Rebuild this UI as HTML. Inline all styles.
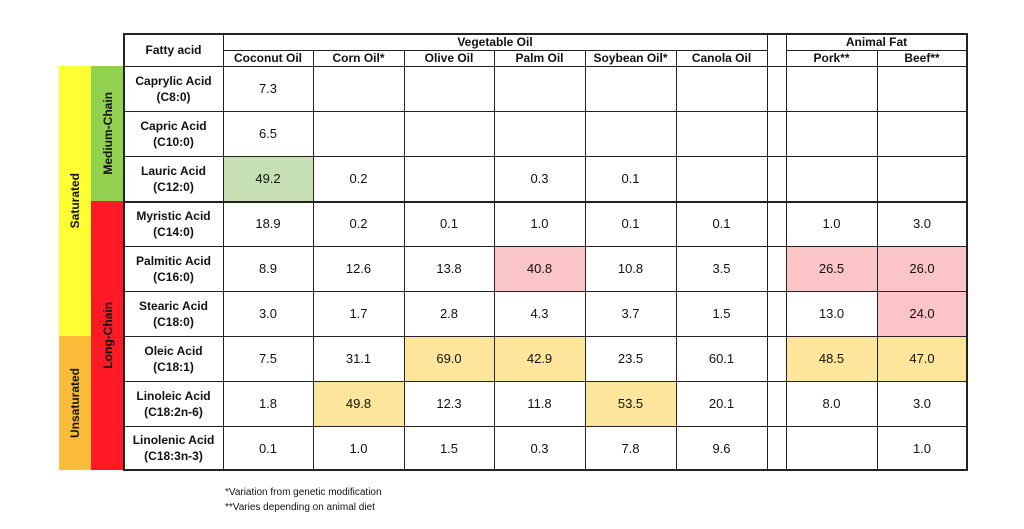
<!DOCTYPE html>
<html><head><meta charset="utf-8"><style>
body{margin:0;background:#fff;width:1024px;height:529px;position:relative;overflow:hidden;font-family:"Liberation Sans",sans-serif;color:#111}
.c{position:absolute;box-sizing:border-box;display:flex;align-items:center;justify-content:center;text-align:center}
.ln{position:absolute;background:#222}
.v{writing-mode:vertical-rl;transform:rotate(180deg);font-weight:bold;font-size:12px}
</style></head><body>
<div id="t"></div>
<div class="c" style="left:225px;top:485px;height:14px;font-size:10px;justify-content:flex-start">*Variation from genetic modification</div>
<div class="c" style="left:225px;top:500px;height:14px;font-size:10px;justify-content:flex-start">**Varies depending on animal diet</div>
<script>
const columns=["Coconut Oil","Corn Oil*","Olive Oil","Palm Oil","Soybean Oil*","Canola Oil","","Pork**","Beef**"];
const acids=[["Caprylic Acid","(C8:0)"],["Capric Acid","(C10:0)"],["Lauric Acid","(C12:0)"],["Myristic Acid","(C14:0)"],["Palmitic Acid","(C16:0)"],["Stearic Acid","(C18:0)"],["Oleic Acid","(C18:1)"],["Linoleic Acid","(C18:2n-6)"],["Linolenic Acid","(C18:3n-3)"]];
const values=[
["7.3","","","","","","","",""],
["6.5","","","","","","","",""],
["49.2","0.2","","0.3","0.1","","","",""],
["18.9","0.2","0.1","1.0","0.1","0.1","","1.0","3.0"],
["8.9","12.6","13.8","40.8","10.8","3.5","","26.5","26.0"],
["3.0","1.7","2.8","4.3","3.7","1.5","","13.0","24.0"],
["7.5","31.1","69.0","42.9","23.5","60.1","","48.5","47.0"],
["1.8","49.8","12.3","11.8","53.5","20.1","","8.0","3.0"],
["0.1","1.0","1.5","0.3","7.8","9.6","","","1.0"]];
const highlights=[
["","","","","","","","",""],
["","","","","","","","",""],
["g","","","","","","","",""],
["","","","","","","","",""],
["","","","p","","","","p","p"],
["","","","","","","","","p"],
["","","y","y","","","","y","y"],
["","y","","","y","","","",""],
["","","","","","","","",""]];
const colX=[223,313,404,494,585,676,767,786,877,967];
const rowY=[66,111,156,201,246,291,336,381,426,470];
const hc={g:"#c6e0b4",p:"#fbc4c6",y:"#fde59c"};
const T=document.getElementById('t');
function box(x,y,w,h,txt,style){const d=document.createElement('div');d.className='c';d.style.cssText=`left:${x}px;top:${y}px;width:${w}px;height:${h}px;`+(style||'');d.innerHTML=txt;T.appendChild(d);return d;}
function line(x,y,w,h){const d=document.createElement('div');d.className='ln';d.style.cssText=`left:${x}px;top:${y}px;width:${w}px;height:${h}px`;


T.appendChild(d);}
// side bars
let b;
b=box(59,66,32,270,'<span class="v">Saturated</span>','background:#ffff33');


b=box(59,336,32,134,'<span class="v">Unsaturated</span>','background:#fbbc3a');


b=box(91,66,33,135,'<span class="v">Medium-Chain</span>','background:#92d050');


b=box(91,201,33,269,'<span class="v">Long-Chain</span>','background:#ff1a25');


// headers
b=box(124,33,99,33,'Fatty acid','font-size:12px;font-weight:bold');


b=box(223,33,544,17,'Vegetable Oil','font-size:12px;font-weight:bold');


b=box(786,33,181,17,'Animal Fat','font-size:12px;font-weight:bold');


columns.forEach((c,i)=>{if(!c)return;b=box(colX[i],50,colX[i+1]-colX[i],16,c,'font-size:12px;font-weight:bold');

});
acids.forEach((a,r)=>{
b=box(124,rowY[r],99,rowY[r+1]-rowY[r],a[0]+'<br>'+a[1],'font-size:12px;font-weight:bold;line-height:16px');


values[r].forEach((v,i)=>{const h=highlights[r][i];
b=box(colX[i],rowY[r],colX[i+1]-colX[i],rowY[r+1]-rowY[r],v,'font-size:13px;'+(h?'background:'+hc[h]:''));

});
});
// grid lines
line(124,33,843,2);line(124,469,843,2);line(123,33,2,438);line(966,33,2,438);
line(223,50,544,1);line(786,50,181,1);
rowY.slice(0,-1).forEach((y,i)=>{line(124,y,843,i==3?2:1);});
colX.slice(0,-1).forEach((x,i)=>{line(x,i==0||i==6||i==7?33:50,1,(i==0||i==6||i==7?437:420));});
</script>
</body></html>
